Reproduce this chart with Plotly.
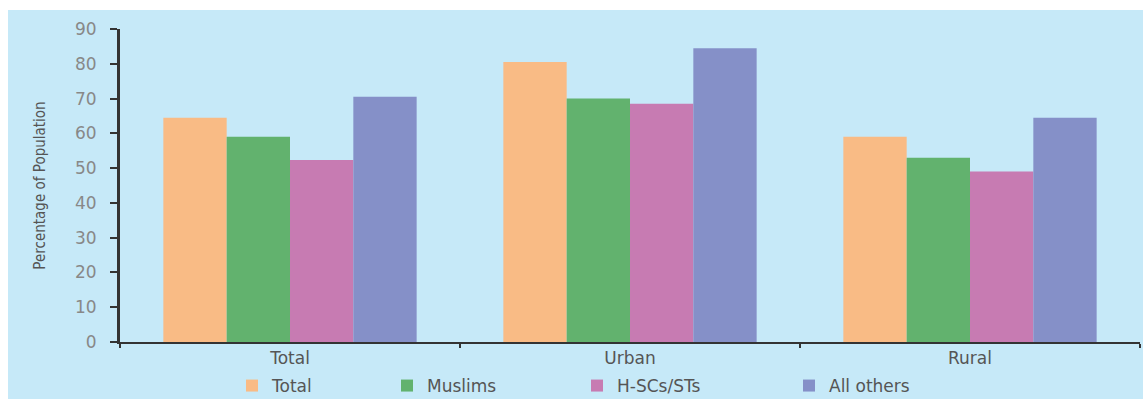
import plotly.graph_objects as go

categories = ["Total", "Urban", "Rural"]
series_names = ["Total", "Muslims", "H-SCs/STs", "All others"]
total_vals = [64.5, 80.5, 59.0]
muslims_vals = [59.0, 70.0, 53.0]
hscst_vals = [52.3, 68.5, 49.0]
others_vals = [70.5, 84.5, 64.5]
y_ticks = [0, 10, 20, 30, 40, 50, 60, 70, 80, 90]

colors = ["#F9BB85", "#62B26E", "#C77BB2", "#8590C8"]
series_vals = [total_vals, muslims_vals, hscst_vals, others_vals]

W, H = 1143, 399
ml, mr, mt, mb = 120, 3, 29, 57
pw, ph = W - ml - mr, H - mt - mb

legend_ids = ["legend", "legend2", "legend3", "legend4"]
legend_px = [232, 387, 577, 789]

fig = go.Figure()
for name, vals, col, lid in zip(series_names, series_vals, colors, legend_ids):
    fig.add_trace(go.Bar(x=categories, y=vals, name=name, legend=lid,
                         marker=dict(color=col, line=dict(width=0))))

legend_font = dict(size=17, color="#555", family="DejaVu Sans, Arial")
layout_legends = {}
for lid, px in zip(legend_ids, legend_px):
    layout_legends[lid] = dict(orientation="h", xref="container", yref="container",
                               x=px / W, xanchor="left",
                               y=(H - 386) / H, yanchor="middle",
                               bgcolor="rgba(0,0,0,0)", font=legend_font, itemwidth=30)

fig.update_layout(
    width=W, height=H,
    margin=dict(l=ml, r=mr, t=mt, b=mb, autoexpand=False),
    paper_bgcolor="white",
    plot_bgcolor="rgba(0,0,0,0)",
    barmode="group",
    bargap=0.255,
    bargroupgap=0,
    font=dict(family="DejaVu Sans, Arial", color="#333"),
    showlegend=True,
    shapes=[dict(type="rect", xref="paper", yref="paper", layer="below",
                 x0=(8 - ml) / pw, x1=1.02, y0=-mb / ph - 0.05, y1=1 + (mt - 10) / ph,
                 fillcolor="#C6E9F8", line=dict(width=0))],
    **layout_legends,
)
fig.update_xaxes(showline=True, linecolor="#333", linewidth=2,
                 ticks="outside", tickson="boundaries", ticklen=4, tickcolor="#333", tickwidth=2,
                 tickfont=dict(size=17, color="#555", family="DejaVu Sans, Arial"),
                 showgrid=False)
fig.update_yaxes(range=[0, 90], tickvals=y_ticks, showline=True, linecolor="#333", linewidth=3,
                 ticks="outside", ticklen=7, tickcolor="#333", tickwidth=2,
                 ticklabelstandoff=10,
                 tickfont=dict(size=17, color="#888", family="DejaVu Sans, Arial"),
                 showgrid=False, zeroline=False,
                 title=dict(text="Percentage of Population", standoff=26,
                            font=dict(size=15, color="#555", family="Liberation Sans Narrow, DejaVu Sans Condensed")))

fig.write_html("out.html")
